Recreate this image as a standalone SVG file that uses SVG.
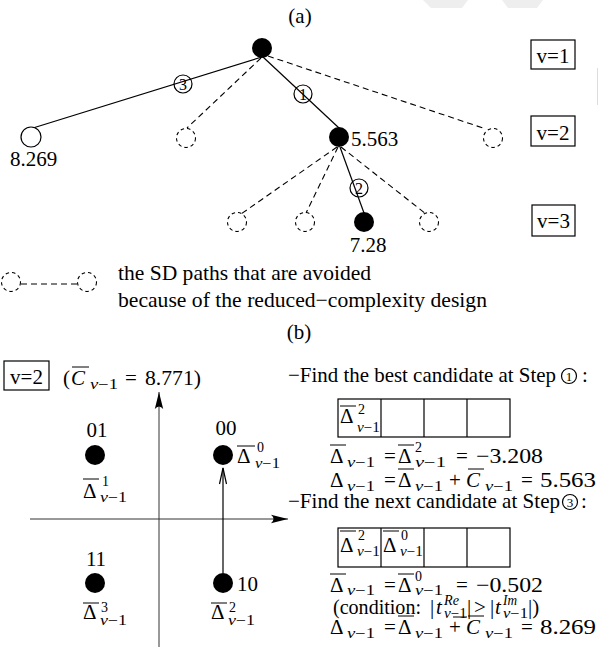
<svg xmlns="http://www.w3.org/2000/svg" width="598" height="647" viewBox="0 0 598 647">
<style>
text{font-family:"Liberation Serif","Times New Roman",serif;fill:#000}
.t{font-size:21px}
.c{font-size:21px;text-anchor:middle}
.m{font-size:21px}
.s{font-size:14px}
.d{font-size:16px;text-anchor:middle}
.e{font-size:13px;text-anchor:middle}
.i{font-style:italic}
.sl{stroke:#000;stroke-width:1.2;fill:none}
.dl{stroke:#000;stroke-width:1.1;fill:none;stroke-dasharray:6 4}
.dc{stroke:#000;stroke-width:1.1;fill:#fff;stroke-dasharray:3.5 3}
.fn{fill:#000}
.ol{stroke:#000;stroke-width:1}
.bx{fill:none;stroke:#000;stroke-width:1.2}
.ax{stroke:#333;stroke-width:1}
</style>
<defs>
<marker id="ah" markerWidth="18" markerHeight="10" refX="17" refY="5" orient="auto" markerUnits="userSpaceOnUse">
<path d="M17,5 L0,0.8 Q5,5 0,9.2 Z" fill="#000"/>
</marker>
</defs>
<rect width="598" height="647" fill="#fff"/>
<!-- watermark -->
<polygon points="423,0 468,0 462,8 431,8" fill="#eeeeee"/>
<polygon points="502,0 543,0 537,8 508,8" fill="#eeeeee"/>
<line x1="597.5" y1="68" x2="597.5" y2="105" stroke="#dddddd" stroke-width="1"/>

<text class="c" x="300" y="23">(a)</text>

<g id="connectors">
<line class="sl" x1="262" y1="57" x2="33" y2="128"/>
<line class="dl" x1="261" y1="58" x2="187" y2="128"/>
<line class="sl" x1="263" y1="57" x2="339" y2="128"/>
<line class="dl" x1="268" y1="56" x2="486" y2="129"/>
<line class="dl" x1="337" y1="147" x2="241" y2="214"/>
<line class="dl" x1="338" y1="147" x2="306" y2="213"/>
<line class="sl" x1="340" y1="147" x2="364" y2="213"/>
<line class="dl" x1="341" y1="147" x2="426" y2="214"/>
<circle class="sl" cx="183" cy="84" r="9"/>
<text class="d" x="183" y="90">3</text>
<circle class="sl" cx="303" cy="94" r="9"/>
<text class="d" x="303" y="100">1</text>
<circle class="sl" cx="359" cy="188" r="9"/>
<text class="d" x="359" y="194">2</text>
</g>

<g id="root"><circle class="fn" cx="262" cy="48" r="10"/></g>
<g id="n8269"><circle cx="31" cy="137" r="10" fill="#fff" stroke="#000" stroke-width="1.2"/><text class="t" x="10" y="166">8.269</text></g>
<g id="d1"><circle class="dc" cx="186" cy="138" r="9.5"/></g>
<g id="n5563"><circle class="fn" cx="339" cy="137" r="10"/><text class="t" x="351" y="146">5.563</text></g>
<g id="d2"><circle class="dc" cx="493" cy="138" r="9.5"/></g>
<g id="d3"><circle class="dc" cx="237" cy="222" r="9.5"/></g>
<g id="d4"><circle class="dc" cx="305" cy="222" r="9.5"/></g>
<g id="n728"><circle class="fn" cx="364" cy="222" r="10"/><text class="c" x="368" y="252">7.28</text></g>
<g id="d5"><circle class="dc" cx="429" cy="222" r="9.5"/></g>

<g id="v1"><rect class="bx" x="531" y="40" width="44" height="29"/><text class="c" x="553" y="63">v=1</text></g>
<g id="v2"><rect class="bx" x="531" y="116" width="44" height="30"/><text class="c" x="553" y="140">v=2</text></g>
<g id="v3"><rect class="bx" x="532" y="205" width="43" height="31"/><text class="c" x="553.5" y="228">v=3</text></g>

<g id="legend">
<line class="dl" x1="21" y1="284" x2="77" y2="284"/>
<circle class="dc" cx="11" cy="282" r="9.5"/>
<circle class="dc" cx="87" cy="282" r="9.5"/>
<text class="t" x="118" y="280" textLength="253" lengthAdjust="spacingAndGlyphs">the SD paths that are avoided</text>
<text class="t" x="118" y="307" textLength="369" lengthAdjust="spacingAndGlyphs">because of the reduced−complexity design</text>
</g>

<text class="c" x="299" y="339">(b)</text>

<g id="v2b"><rect class="bx" x="4" y="361" width="45" height="29"/><text class="c" x="26.5" y="384">v=2</text></g>
<g id="cbar">
<text class="m" x="63" y="385">(</text>
<text class="m i" x="71" y="385">C</text>
<line class="ol" x1="72" y1="367" x2="89" y2="367"/>
<text class="s" x="90" y="389" textLength="28" lengthAdjust="spacingAndGlyphs"><tspan class="i">v</tspan>−1</text>
<text class="m" x="125" y="385">=</text>
<text class="m" x="145" y="385" textLength="56" lengthAdjust="spacingAndGlyphs">8.771)</text>
</g>

<g id="axes">
<line class="ax" x1="159" y1="647" x2="159" y2="392" marker-end="url(#ah)"/>
<line class="ax" x1="30" y1="519" x2="288" y2="519" marker-end="url(#ah)"/>
</g>

<g id="p00">
<circle class="fn" cx="223" cy="455" r="10"/>
<text class="c" x="226" y="435">00</text>
<text class="m" x="237" y="463">Δ</text>
<line class="ol" x1="237" y1="446" x2="255" y2="446"/>
<text class="s" x="257" y="452">0</text>
<text class="s" x="255" y="468" textLength="25" lengthAdjust="spacingAndGlyphs"><tspan class="i">v</tspan>−1</text>
</g>
<g id="p01">
<circle class="fn" cx="95" cy="455" r="10"/>
<text class="c" x="97" y="437">01</text>
<text class="m" x="83" y="498">Δ</text>
<line class="ol" x1="83" y1="479" x2="99" y2="479"/>
<text class="s" x="102" y="486">1</text>
<text class="s" x="100" y="502" textLength="27" lengthAdjust="spacingAndGlyphs"><tspan class="i">v</tspan>−1</text>
</g>
<g id="p11">
<circle class="fn" cx="95" cy="583" r="10"/>
<text class="c" x="96" y="566">11</text>
<text class="m" x="83" y="619">Δ</text>
<line class="ol" x1="83" y1="603" x2="99" y2="603"/>
<text class="s" x="101" y="612">3</text>
<text class="s" x="100" y="625" textLength="27" lengthAdjust="spacingAndGlyphs"><tspan class="i">v</tspan>−1</text>
</g>
<g id="p10">
<circle class="fn" cx="223" cy="583" r="10"/>
<text class="t" x="237" y="591">10</text>
<text class="m" x="211" y="619">Δ</text>
<line class="ol" x1="211" y1="603" x2="227" y2="603"/>
<text class="s" x="229" y="612">2</text>
<text class="s" x="228" y="625" textLength="27" lengthAdjust="spacingAndGlyphs"><tspan class="i">v</tspan>−1</text>
</g>
<g id="move">
<line class="sl" x1="223" y1="573" x2="223" y2="468"/>
<polyline class="sl" points="219.5,484 223,468 226.5,484"/>
</g>

<g id="step1">
<text class="t" x="288" y="382" textLength="268" lengthAdjust="spacingAndGlyphs">−Find the best candidate at Step</text>
<circle class="sl" cx="569" cy="376" r="7.5"/>
<text class="e" x="569" y="381">1</text>
<text class="t" x="582" y="382">:</text>
<rect class="bx" x="338" y="399" width="172" height="38"/>
<line class="bx" x1="381" y1="399" x2="381" y2="437"/>
<line class="bx" x1="424" y1="399" x2="424" y2="437"/>
<line class="bx" x1="467" y1="399" x2="467" y2="437"/>
<text class="m" x="340" y="423">Δ</text>
<line class="ol" x1="340" y1="406" x2="356" y2="406"/>
<text class="s" x="358" y="414">2</text>
<text class="s" x="357" y="432" textLength="23" lengthAdjust="spacingAndGlyphs"><tspan class="i">v</tspan>−1</text>

<text class="m" x="330" y="463">Δ</text>
<line class="ol" x1="330" y1="445" x2="346" y2="445"/>
<text class="s" x="347" y="467" textLength="28" lengthAdjust="spacingAndGlyphs"><tspan class="i">v</tspan>−1</text>
<text class="m" x="384" y="463">=</text>
<text class="m" x="398" y="463">Δ</text>
<line class="ol" x1="398" y1="445" x2="414" y2="445"/>
<text class="s" x="415" y="452">2</text>
<text class="s" x="415" y="467" textLength="31" lengthAdjust="spacingAndGlyphs"><tspan class="i">v</tspan>−1</text>
<text class="m" x="456" y="463">=</text>
<text class="m" x="476" y="463" textLength="67" lengthAdjust="spacingAndGlyphs">−3.208</text>

<text class="m" x="330" y="487">Δ</text>
<text class="s" x="347" y="491" textLength="28" lengthAdjust="spacingAndGlyphs"><tspan class="i">v</tspan>−1</text>
<text class="m" x="384" y="487">=</text>
<text class="m" x="398" y="487">Δ</text>
<line class="ol" x1="398" y1="469" x2="414" y2="469"/>
<text class="s" x="415" y="491" textLength="28" lengthAdjust="spacingAndGlyphs"><tspan class="i">v</tspan>−1</text>
<text class="m" x="449" y="487">+</text>
<text class="m i" x="466" y="487">C</text>
<line class="ol" x1="468" y1="469" x2="484" y2="469"/>
<text class="s" x="485" y="491" textLength="28" lengthAdjust="spacingAndGlyphs"><tspan class="i">v</tspan>−1</text>
<text class="m" x="521" y="487">=</text>
<text class="m" x="540" y="487" textLength="56" lengthAdjust="spacingAndGlyphs">5.563</text>
</g>

<g id="step3">
<text class="t" x="288" y="508" textLength="272" lengthAdjust="spacingAndGlyphs">−Find the next candidate at Step</text>
<circle class="sl" cx="570" cy="502" r="7.5"/>
<text class="e" x="570" y="507">3</text>
<text class="t" x="581" y="508">:</text>
<rect class="bx" x="338" y="528" width="172" height="39"/>
<line class="bx" x1="381" y1="528" x2="381" y2="567"/>
<line class="bx" x1="424" y1="528" x2="424" y2="567"/>
<line class="bx" x1="467" y1="528" x2="467" y2="567"/>
<text class="m" x="340" y="552">Δ</text>
<line class="ol" x1="340" y1="531" x2="356" y2="531"/>
<text class="s" x="358" y="540">2</text>
<text class="s" x="357" y="556" textLength="23" lengthAdjust="spacingAndGlyphs"><tspan class="i">v</tspan>−1</text>
<text class="m" x="383" y="552">Δ</text>
<line class="ol" x1="383" y1="531" x2="399" y2="531"/>
<text class="s" x="401" y="540">0</text>
<text class="s" x="400" y="556" textLength="23" lengthAdjust="spacingAndGlyphs"><tspan class="i">v</tspan>−1</text>

<text class="m" x="330" y="592">Δ</text>
<line class="ol" x1="330" y1="574" x2="346" y2="574"/>
<text class="s" x="347" y="595" textLength="28" lengthAdjust="spacingAndGlyphs"><tspan class="i">v</tspan>−1</text>
<text class="m" x="384" y="592">=</text>
<text class="m" x="398" y="592">Δ</text>
<line class="ol" x1="398" y1="574" x2="414" y2="574"/>
<text class="s" x="415" y="581">0</text>
<text class="s" x="415" y="595" textLength="28" lengthAdjust="spacingAndGlyphs"><tspan class="i">v</tspan>−1</text>
<text class="m" x="456" y="592">=</text>
<text class="m" x="476" y="592" textLength="67" lengthAdjust="spacingAndGlyphs">−0.502</text>

<text class="m" x="333" y="614" textLength="88" lengthAdjust="spacingAndGlyphs">(condition:</text>
<text class="m" x="430" y="614">|</text>
<text class="m i" x="436" y="614">t</text>
<text class="s i" x="444" y="605" textLength="15" lengthAdjust="spacingAndGlyphs">Re</text>
<text class="s" x="444" y="618" textLength="23" lengthAdjust="spacingAndGlyphs"><tspan class="i">v</tspan>−1</text>
<line class="ol" x1="453" y1="617" x2="467" y2="617"/>
<text class="m" x="467" y="614">|</text>
<text class="m" x="474" y="614">&gt;</text>
<text class="m" x="490" y="614">|</text>
<text class="m i" x="495" y="614">t</text>
<text class="s i" x="503" y="605" textLength="14" lengthAdjust="spacingAndGlyphs">Im</text>
<text class="s" x="503" y="618" textLength="25" lengthAdjust="spacingAndGlyphs"><tspan class="i">v</tspan>−1</text>
<text class="m" x="528" y="614">|)</text>

<text class="m" x="330" y="634">Δ</text>
<text class="s" x="347" y="638" textLength="28" lengthAdjust="spacingAndGlyphs"><tspan class="i">v</tspan>−1</text>
<text class="m" x="384" y="634">=</text>
<text class="m" x="398" y="634">Δ</text>
<line class="ol" x1="398" y1="616" x2="414" y2="616"/>
<text class="s" x="415" y="638" textLength="28" lengthAdjust="spacingAndGlyphs"><tspan class="i">v</tspan>−1</text>
<text class="m" x="449" y="634">+</text>
<text class="m i" x="466" y="634">C</text>
<line class="ol" x1="468" y1="616" x2="484" y2="616"/>
<text class="s" x="485" y="638" textLength="28" lengthAdjust="spacingAndGlyphs"><tspan class="i">v</tspan>−1</text>
<text class="m" x="521" y="634">=</text>
<text class="m" x="540" y="634" textLength="56" lengthAdjust="spacingAndGlyphs">8.269</text>
</g>
</svg>
